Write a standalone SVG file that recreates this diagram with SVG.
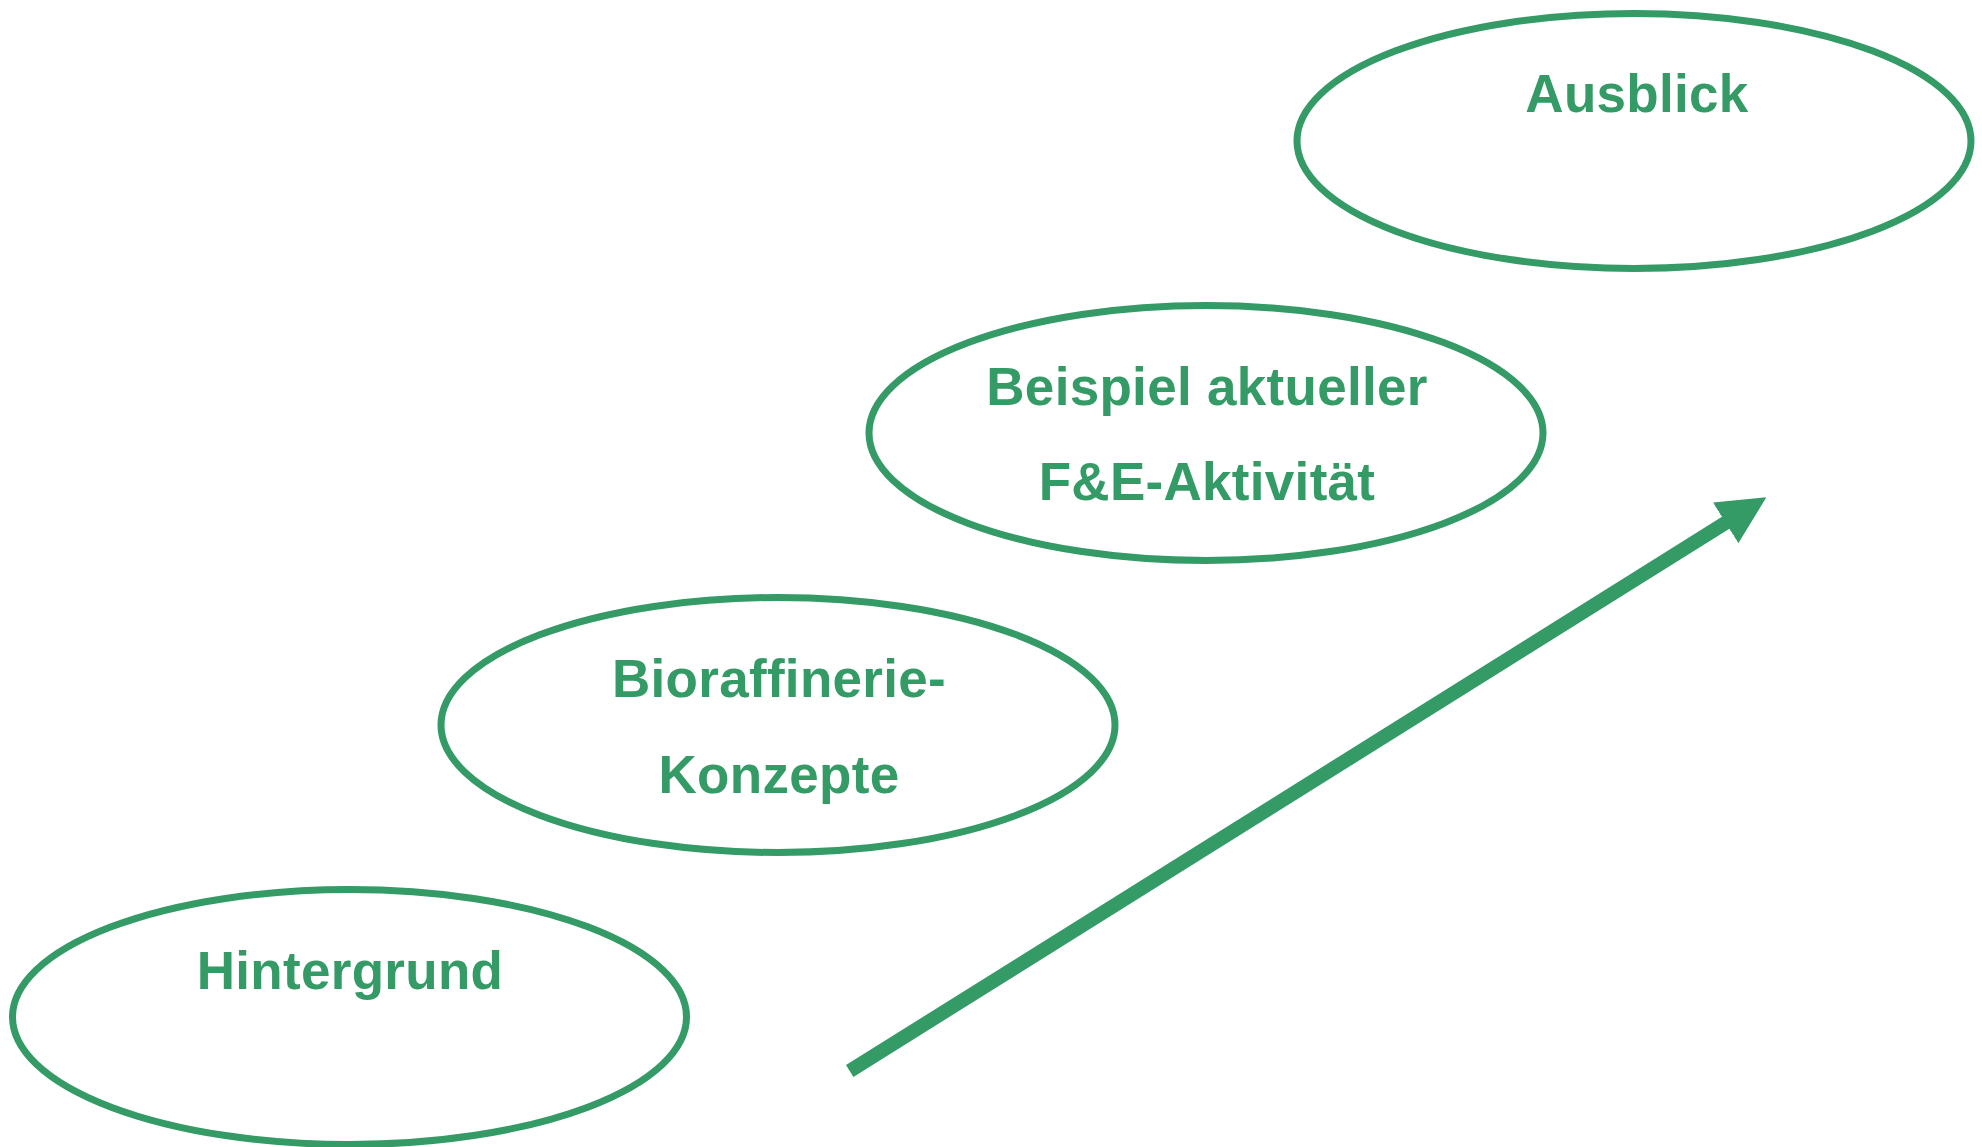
<svg xmlns="http://www.w3.org/2000/svg" width="1982" height="1147" viewBox="0 0 1982 1147">
  <defs>
    <style>
      .node ellipse { fill: #ffffff; stroke: #349a66; stroke-width: 7; }
      .node text { font-family: "Liberation Sans", Arial, sans-serif; font-weight: bold; font-size: 53px; fill: #349a66; text-anchor: middle; letter-spacing: 0.3px; }
      .conn { stroke: #349a66; stroke-width: 14; fill: none; }
    </style>
    <marker id="head" markerUnits="userSpaceOnUse" markerWidth="48" markerHeight="48" refX="1" refY="24" orient="auto">
      <path d="M0,0 L48,24 L0,48 z" fill="#349a66"/>
    </marker>
  </defs>
  <rect width="1982" height="1147" fill="#ffffff"/>
  <g id="connectors">
    <line class="conn" x1="849.7" y1="1071" x2="1726.5" y2="522.3" marker-end="url(#head)"/>
  </g>
  <g id="node-hintergrund" class="node">
    <ellipse cx="349.5" cy="1017" rx="337" ry="127.5"/>
    <text x="350" y="989">Hintergrund</text>
  </g>
  <g id="node-bioraffinerie" class="node">
    <ellipse cx="778" cy="725" rx="337" ry="127.5"/>
    <text x="779" y="697">Bioraffinerie-</text>
    <text x="779" y="793">Konzepte</text>
  </g>
  <g id="node-beispiel" class="node">
    <ellipse cx="1206" cy="433" rx="337" ry="127.5"/>
    <text x="1207" y="405">Beispiel aktueller</text>
    <text x="1207" y="500">F&amp;E-Aktivität</text>
  </g>
  <g id="node-ausblick" class="node">
    <ellipse cx="1634" cy="141" rx="337" ry="127.5"/>
    <text x="1637" y="112">Ausblick</text>
  </g>
</svg>
